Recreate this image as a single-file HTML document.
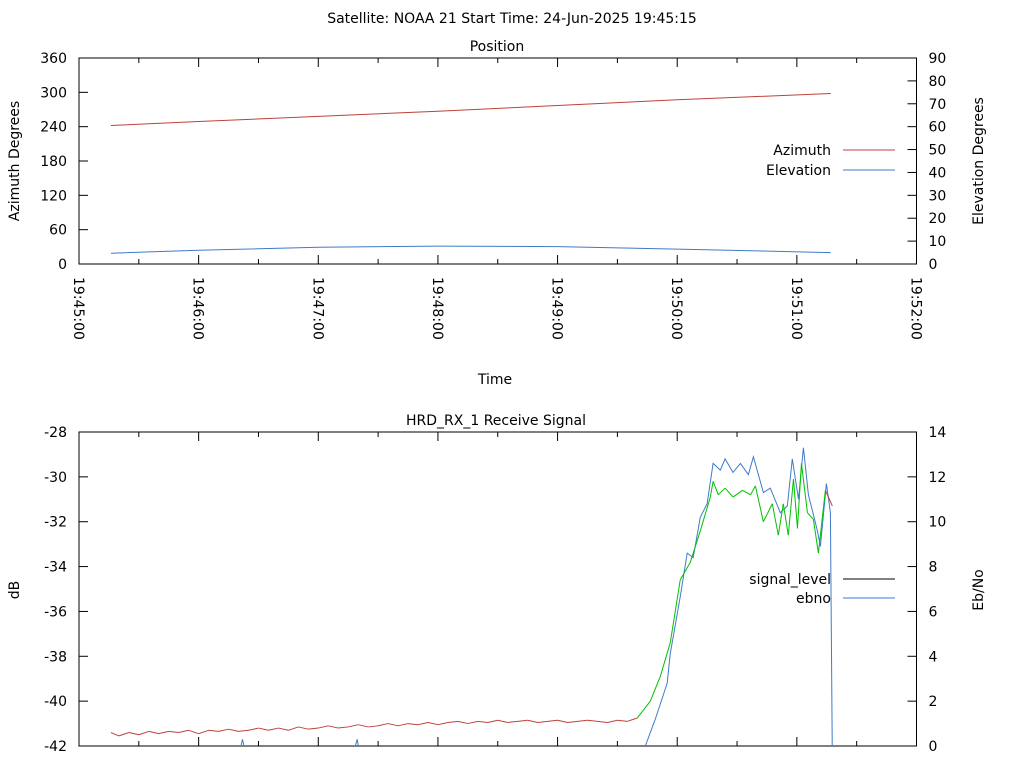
<!DOCTYPE html>
<html><head><meta charset="utf-8"><style>
body{margin:0;background:#fff;}
svg{display:block;font-family:"DejaVu Sans","Liberation Sans",sans-serif;font-size:14px;fill:#000;}
</style></head><body>
<svg id="c" width="1024" height="768" xmlns="http://www.w3.org/2000/svg">
<text x="512" y="23" text-anchor="middle">Satellite: NOAA 21    Start Time: 24-Jun-2025 19:45:15</text>
</svg>
<script>
// ---- Position data (time in seconds from 19:45:00) ----
const posTimes = [16, 60, 120, 180, 240, 300, 377];
const azimuth = [242, 249, 258, 267, 277, 287, 298];
const elevation = [4.7, 6.0, 7.3, 7.8, 7.6, 6.5, 5.0];
const timeTickLabels = ["19:45:00","19:46:00","19:47:00","19:48:00","19:49:00","19:50:00","19:51:00","19:52:00"];
const azTicks = [0,60,120,180,240,300,360];
const elTicks = [0,10,20,30,40,50,60,70,80,90];
// ---- Signal data ----
const sigTimes = [16,20,25,30,35,40,45,50,55,60,65,70,75,80,85,90,95,100,105,110,115,120,125,130,135,140,145,150,155,160,165,170,175,180,185,190,195,200,205,210,215,220,225,230,235,240,245,250,255,260,265,270,275,280,286.5,291.5,296.5,301.5,306.6,311.6,316.6,318,320.6,324,328,332.7,336.8,339.2,343.2,347.7,350.7,353.2,355.7,358.3,360.3,362.3,365.3,368.3,370.8,374.3,377.8];
const signalLevel = [-41.4,-41.55,-41.4,-41.5,-41.35,-41.45,-41.35,-41.4,-41.3,-41.45,-41.3,-41.35,-41.25,-41.35,-41.3,-41.2,-41.3,-41.2,-41.3,-41.15,-41.25,-41.2,-41.1,-41.2,-41.15,-41.05,-41.15,-41.1,-41.0,-41.1,-41.0,-41.05,-40.95,-41.05,-40.95,-40.9,-41.0,-40.9,-40.95,-40.85,-40.95,-40.9,-40.85,-40.95,-40.9,-40.85,-40.95,-40.9,-40.85,-40.9,-40.95,-40.85,-40.9,-40.75,-40.0,-38.9,-37.4,-34.6,-33.8,-32.4,-30.9,-30.2,-30.8,-30.5,-30.9,-30.6,-30.8,-30.4,-32.0,-31.2,-32.6,-31.2,-32.6,-30.1,-32.3,-29.4,-31.6,-31.9,-33.4,-30.6,-31.3];
const ebnoTimes = [16,80,82,84,137,139.5,141,280,284,289,295,296.5,301.5,305,308,311.6,315,318,321.6,324,328,331.7,335.7,338.2,343.2,346.7,351.7,355.2,357.7,360.8,363.3,365.8,370.3,371.8,374.8,376.8,377.8];
const ebno = [-0.5,-0.5,0.3,-0.5,-0.5,0.3,-0.5,-0.5,0,1.2,2.8,4.1,6.65,8.6,8.4,10.2,10.8,12.6,12.3,12.8,12.2,12.6,12.1,12.9,11.3,11.5,10.4,10.7,12.8,11.0,13.3,11.2,9.6,8.9,11.7,10.4,-1];
const dbTicks = [-42,-40,-38,-36,-34,-32,-30,-28];
const ebTicks = [0,2,4,6,8,10,12,14];

const NS="http://www.w3.org/2000/svg";
const svg=document.getElementById('c');
function mk(tag,attrs,parent){const e=document.createElementNS(NS,tag);for(const k in attrs)e.setAttribute(k,attrs[k]);(parent||svg).appendChild(e);return e;}
const L=79,R=916.5,T0=420;
const xS=t=>L+(R-L)*t/T0;
function panel(top,bot){return {top,bot};}
const P1={top:58,bot:264}, P2={top:432,bot:746};
const yAz=v=>P1.bot-(P1.bot-P1.top)*v/360;
const yEl=v=>P1.bot-(P1.bot-P1.top)*v/90;
const yDb=v=>P2.bot-(P2.bot-P2.top)*(v+42)/14;
const yEb=v=>P2.bot-(P2.bot-P2.top)*v/14;

function frame(P,name){
  const r=mk('rect',{x:L,y:P.top,width:R-L,height:P.bot-P.top,fill:'none',stroke:'#000','stroke-width':1});
  
  
  for(let s=0;s<=420;s+=30){
    const x=xS(s), len=(s%60===0)?9:5;
    const a=mk('line',{x1:x,x2:x,y1:P.bot,y2:P.bot-len,stroke:'#000'});
    
    
    const b=mk('line',{x1:x,x2:x,y1:P.top,y2:P.top+len,stroke:'#000'});
    
    
  }
}
function yticks(vals,scale,side,fmt,name){
  vals.forEach(v=>{
    const y=scale(v);
    const x1=side==='l'?L:R, x2=side==='l'?L+9:R-9;
    const t=mk('line',{x1,x2,y1:y,y2:y,stroke:'#000'});
    
    
    const tx=mk('text',{x:side==='l'?L-12:R+12,y:y+5,'text-anchor':side==='l'?'end':'start'});
    tx.textContent=fmt(v);
    
    
  });
}
function label(txt,x,y,rot,name){
  const t=mk('text',{x,y,'text-anchor':'middle',transform:rot?`rotate(-90 ${x} ${y})`:''});
  t.textContent=txt;
  
  
}
function line(ts,vs,xs,ys,color,name,clip){
  const d=ts.map((t,i)=>(i?'L':'M')+xs(t).toFixed(1)+','+ys(vs[i]).toFixed(1)).join('');
  const p=mk('path',{d,fill:'none',stroke:color,'stroke-width':1,'clip-path':clip||''});
  
  
}
function legend(txt,y,color,name){
  const t=mk('text',{x:831,y:y+5,'text-anchor':'end'});
  t.textContent=txt;
  
  
  const l=mk('line',{x1:843,x2:895,y1:y,y2:y,stroke:color});
  
  
}
// clip for lower panel
const defs=mk('defs',{});
const cp=mk('clipPath',{id:'cp2'},defs);
mk('rect',{x:L,y:P2.top,width:R-L,height:P2.bot-P2.top},cp);

// Panel 1
frame(P1,'position');
label('Position',497,51,false,'position-title');
yticks(azTicks,yAz,'l',v=>v,'azimuth-axis');
yticks(elTicks,yEl,'r',v=>v,'elevation-axis');
label('Azimuth Degrees',19,161,true,'azimuth-axis-title');
label('Elevation Degrees',983,161,true,'elevation-axis-title');
timeTickLabels.forEach((s,i)=>{
  const x=xS(i*60);
  const t=mk('text',{x:x-5,y:277,transform:`rotate(90 ${x-5} 277)`});
  t.textContent=s;
  
  
});
label('Time',495,384,false,'time-axis-title');
line(posTimes,azimuth,xS,yAz,'#c0403a','azimuth-line');
line(posTimes,elevation,xS,yEl,'#3f7bc8','elevation-line');
legend('Azimuth',150,'#c0403a','legend-azimuth');
legend('Elevation',170,'#3f7bc8','legend-elevation');

// Panel 2
frame(P2,'signal');
label('HRD_RX_1 Receive Signal',496,425,false,'signal-title');
yticks(dbTicks,yDb,'l',v=>v,'db-axis');
yticks(ebTicks,yEb,'r',v=>v,'ebno-axis');
label('dB',19,590,true,'db-axis-title');
label('Eb/No',983,590,true,'ebno-axis-title');
line(ebnoTimes,ebno,xS,yEb,'#3f7bc8','ebno-line','url(#cp2)');
// signal coloured by level
for(let i=1;i<sigTimes.length;i++){
  const good=signalLevel[i]>-40.3 && i<sigTimes.length-1;
  const s=mk('line',{x1:xS(sigTimes[i-1]),y1:yDb(signalLevel[i-1]),x2:xS(sigTimes[i]),y2:yDb(signalLevel[i]),stroke:good?'#00c000':'#c0403a','clip-path':'url(#cp2)'});
  
  
}
legend('signal_level',579,'#000','legend-signal-level');
legend('ebno',598,'#3f7bc8','legend-ebno');
</script>
</body></html>
